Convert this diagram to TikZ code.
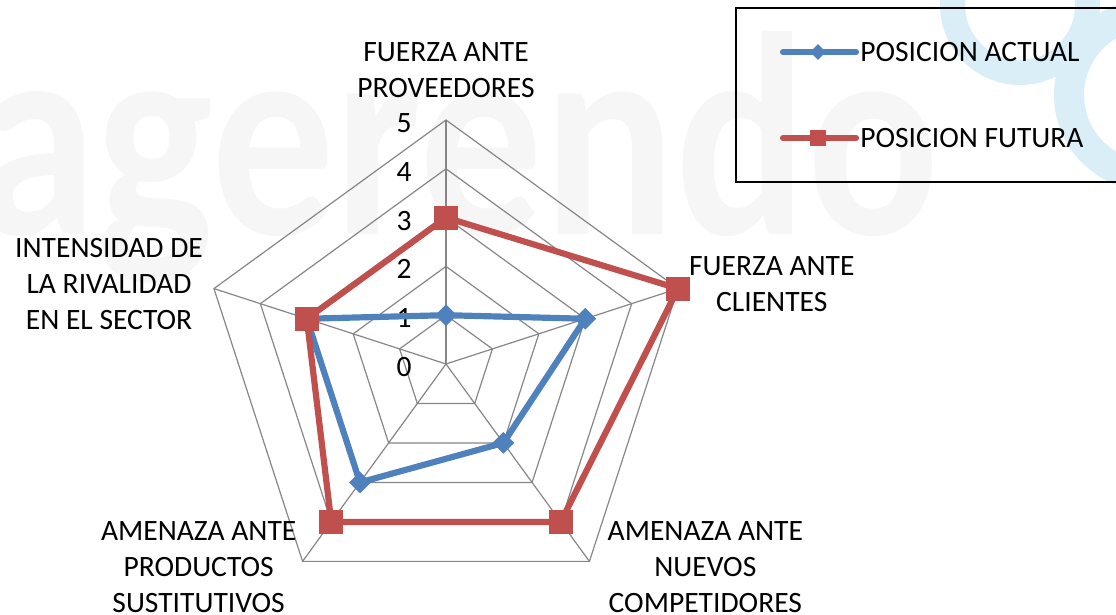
\documentclass[tikz,border=0pt]{standalone}
\usepackage{fontspec}
\setmainfont{Carlito}
\usetikzlibrary{shapes.geometric,positioning}
\definecolor{actualblue}{HTML}{4F81BD}
\definecolor{futurared}{HTML}{C0504D}
\definecolor{webgray}{HTML}{868686}
\definecolor{ringblue}{HTML}{D9EEF6}
\definecolor{markgray}{HTML}{F6F6F6}

\begin{document}
\begin{tikzpicture}
    [x=0.025cm, y=0.025cm, font=\fontsize{21}{25.6}\selectfont,
    % STYLES
    % The axis style is used for the names around the web
    axis/.style={align=center, inner sep=0pt},
    % The tick style is used for the numbers on the upper spoke
    tick/.style={inner sep=0pt},
    % The web style is used for the grid and the spokes
    web/.style={draw=webgray, line width=0.85pt},
    % The two series
    actual/.style={draw=actualblue, line width=4.4pt, line join=round},
    futura/.style={draw=futurared, line width=4.4pt, line join=round},
    dmark/.style={diamond, fill=actualblue, inner sep=0pt, minimum size=0.55cm},
    smark/.style={rectangle, fill=futurared, inner sep=0pt, minimum size=0.6cm}]

    \useasboundingbox (0,0) rectangle (1116,615);

    % Watermark
    \fill[ringblue, even odd rule] (1020,610) circle (80) (1020,610) circle (55);
    \fill[ringblue, even odd rule] (1150,520) circle (96) (1150,520) circle (66);
    \node[anchor=base west, text=markgray, xscale=0.85, inner sep=0pt,
      font=\fontsize{206}{206}\selectfont\bfseries] (mark) at (-25,380) {agerendo};

    % Draw web
    \begin{scope}[shift={(446,251)}]
    \foreach \r in {1,...,5}
      \draw[web] (90:\r*48.8) -- (18:\r*48.8) -- (-54:\r*48.8) -- (-126:\r*48.8) -- (162:\r*48.8) -- cycle;
    \coordinate (c) at (0,0);
    \foreach \a [count=\i] in {90,18,-54,-126,162} {
      \coordinate (v\i) at (\a:244);
      \draw[web] (c) -- (v\i);
    }
    \foreach \k in {0,...,5}
      \node[tick] (t\k) at (-42,\k*48.8-3) {\k};

    % Draw series
    \foreach \a/\v [count=\i] in {90/1,18/3,-54/2,-126/3,162/3}
      \coordinate (a\i) at (\a:\v*48.8);
    \foreach \a/\v [count=\i] in {90/3,18/5,-54/4,-126/4,162/3}
      \coordinate (f\i) at (\a:\v*48.8);
    \draw[actual] (a1) -- (a2) -- (a3) -- (a4) -- (a5) -- cycle;
    \foreach \i in {1,...,5}
      \node[dmark] (am\i) at (a\i) {};
    \draw[futura] (f1) -- (f2) -- (f3) -- (f4) -- (f5) -- cycle;
    \foreach \i in {1,...,5}
      \node[smark] (fm\i) at (f\i) {};
    \end{scope}

    % Axis names
    \node[axis, above=0.55cm of v1] (prov) {FUERZA ANTE\\PROVEEDORES};
    \node[axis, right=0.27cm of v2, yshift=0.1cm] (cli) {FUERZA ANTE\\CLIENTES};
    \node[axis, right=0.45cm of v3, yshift=-0.15cm] (nue) {AMENAZA ANTE\\NUEVOS\\COMPETIDORES};
    \node[axis, left=0.15cm of v4, yshift=-0.15cm] (sus) {AMENAZA ANTE\\PRODUCTOS\\SUSTITUTIVOS};
    \node[axis, left=0.27cm of v5, yshift=0.125cm] (riv) {INTENSIDAD DE\\LA RIVALIDAD\\EN EL SECTOR};

    % Legend
    \draw[line width=1.4pt] (736,607) rectangle (1130,433);
    \coordinate (la1) at (783,563);
    \coordinate (la2) at (856,563);
    \coordinate (lf1) at (783,477);
    \coordinate (lf2) at (856,477);
    \draw[actual, line cap=round] (la1) -- (la2);
    \node[dmark, minimum size=0.4cm] (lam) at (818,563) {};
    \node[axis, right=0.1cm of la2] (lat) {POSICION ACTUAL};
    \draw[futura, line cap=round] (lf1) -- (lf2);
    \node[smark, minimum size=0.42cm] (lfm) at (818,477) {};
    \node[axis, right=0.1cm of lf2] (lft) {POSICION FUTURA};
\end{tikzpicture}
\end{document}
